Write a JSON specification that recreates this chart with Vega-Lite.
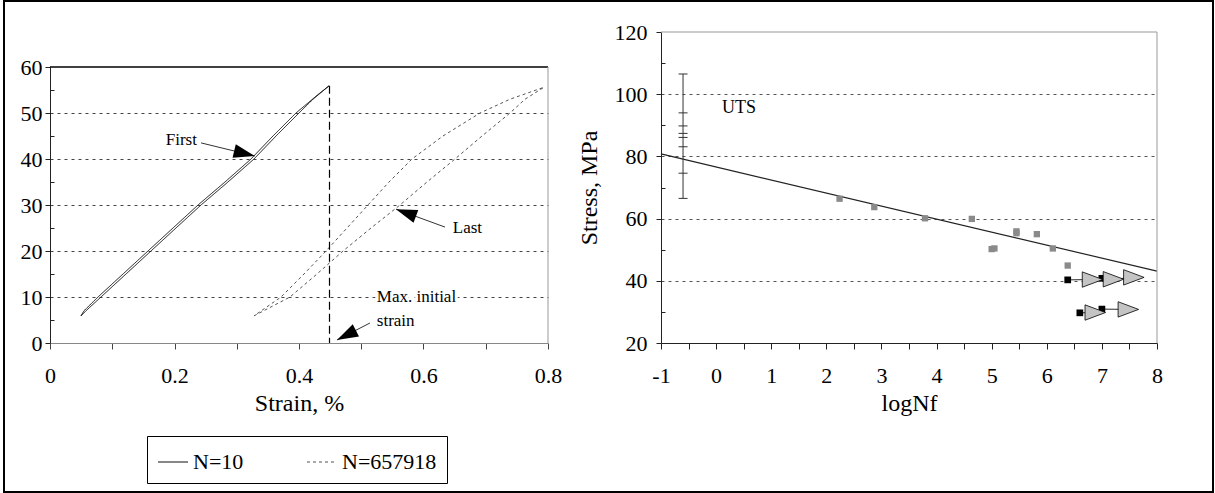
{
  "$schema": "https://vega.github.io/schema/vega-lite/v6.json",
  "width": 1215,
  "height": 493,
  "autosize": {"type": "fit", "contains": "padding"},
  "padding": {"left": 4, "top": 1, "right": 2, "bottom": 1},
  "background": "white",
  "config": {
    "font": "Liberation Serif, Times New Roman, Times, DejaVu Serif, serif",
    "view": {"stroke": "black", "strokeWidth": 2},
    "axis": {
      "labelFont": "Liberation Serif, Times New Roman, Times, DejaVu Serif, serif",
      "labelFontSize": 22,
      "labelColor": "black",
      "titleFont": "Liberation Serif, Times New Roman, Times, DejaVu Serif, serif",
      "titleFontSize": 24,
      "titleFontWeight": "normal",
      "titleColor": "black",
      "tickColor": "#222",
      "domainColor": "#222",
      "labelFlush": false,
      "labelOverlap": false,
      "labelBound": false
    },
    "legend": {"labelFont": "Liberation Serif, Times New Roman, Times, DejaVu Serif, serif"},
    "text": {"font": "Liberation Serif, Times New Roman, Times, DejaVu Serif, serif"}
  },
  "datasets": {
    "loops": [
      {"series": "N=10", "i": 0, "strain": 0.0498, "stress": 5.9},
      {"series": "N=10", "i": 1, "strain": 0.0578, "stress": 7},
      {"series": "N=10", "i": 2, "strain": 0.0819, "stress": 10},
      {"series": "N=10", "i": 3, "strain": 0.1221, "stress": 15},
      {"series": "N=10", "i": 4, "strain": 0.1622, "stress": 20},
      {"series": "N=10", "i": 5, "strain": 0.2024, "stress": 25},
      {"series": "N=10", "i": 6, "strain": 0.2426, "stress": 30},
      {"series": "N=10", "i": 7, "strain": 0.2859, "stress": 35},
      {"series": "N=10", "i": 8, "strain": 0.3277, "stress": 40},
      {"series": "N=10", "i": 9, "strain": 0.3631, "stress": 45},
      {"series": "N=10", "i": 10, "strain": 0.4, "stress": 50},
      {"series": "N=10", "i": 11, "strain": 0.4225, "stress": 53},
      {"series": "N=10", "i": 12, "strain": 0.4482, "stress": 55.9},
      {"series": "N=10", "i": 13, "strain": 0.4305, "stress": 54},
      {"series": "N=10", "i": 14, "strain": 0.3952, "stress": 50},
      {"series": "N=10", "i": 15, "strain": 0.3582, "stress": 45},
      {"series": "N=10", "i": 16, "strain": 0.3229, "stress": 40},
      {"series": "N=10", "i": 17, "strain": 0.2811, "stress": 35},
      {"series": "N=10", "i": 18, "strain": 0.2378, "stress": 30},
      {"series": "N=10", "i": 19, "strain": 0.1976, "stress": 25},
      {"series": "N=10", "i": 20, "strain": 0.1574, "stress": 20},
      {"series": "N=10", "i": 21, "strain": 0.1173, "stress": 15},
      {"series": "N=10", "i": 22, "strain": 0.0771, "stress": 10},
      {"series": "N=10", "i": 23, "strain": 0.0546, "stress": 7},
      {"series": "N=10", "i": 24, "strain": 0.0498, "stress": 5.9},
      {"series": "N=657918", "i": 0, "strain": 0.3277, "stress": 5.9},
      {"series": "N=657918", "i": 1, "strain": 0.3855, "stress": 10},
      {"series": "N=657918", "i": 2, "strain": 0.4289, "stress": 15},
      {"series": "N=657918", "i": 3, "strain": 0.4707, "stress": 20},
      {"series": "N=657918", "i": 4, "strain": 0.5157, "stress": 25},
      {"series": "N=657918", "i": 5, "strain": 0.5622, "stress": 30},
      {"series": "N=657918", "i": 6, "strain": 0.6056, "stress": 35},
      {"series": "N=657918", "i": 7, "strain": 0.6506, "stress": 40},
      {"series": "N=657918", "i": 8, "strain": 0.694, "stress": 45},
      {"series": "N=657918", "i": 9, "strain": 0.739, "stress": 50},
      {"series": "N=657918", "i": 10, "strain": 0.7631, "stress": 53},
      {"series": "N=657918", "i": 11, "strain": 0.7936, "stress": 55.6},
      {"series": "N=657918", "i": 12, "strain": 0.739, "stress": 53},
      {"series": "N=657918", "i": 13, "strain": 0.6908, "stress": 50},
      {"series": "N=657918", "i": 14, "strain": 0.6313, "stress": 45},
      {"series": "N=657918", "i": 15, "strain": 0.5815, "stress": 40},
      {"series": "N=657918", "i": 16, "strain": 0.5446, "stress": 35},
      {"series": "N=657918", "i": 17, "strain": 0.5108, "stress": 30},
      {"series": "N=657918", "i": 18, "strain": 0.4771, "stress": 25},
      {"series": "N=657918", "i": 19, "strain": 0.4434, "stress": 20},
      {"series": "N=657918", "i": 20, "strain": 0.408, "stress": 15},
      {"series": "N=657918", "i": 21, "strain": 0.3711, "stress": 10},
      {"series": "N=657918", "i": 22, "strain": 0.3277, "stress": 5.9}
    ],
    "peak": [{"strain": 0.449, "top": 55.9, "bottom": 0}],
    "arrows": [
      {"name": "First", "strain": 0.2426, "stress": 43.5, "strain2": 0.329, "stress2": 40.65},
      {"name": "Last", "strain": 0.6345, "stress": 25.2, "strain2": 0.5558, "stress2": 29.1},
      {"name": "Max", "strain": 0.514, "stress": 4.35, "strain2": 0.461, "stress2": 0.65}
    ],
    "labels": [
      {"label": "First", "strain": 0.186, "stress": 44.1},
      {"label": "Last", "strain": 0.647, "stress": 25.0},
      {"label": "Max. initial", "strain": 0.525, "stress": 10.0},
      {"label": "strain", "strain": 0.525, "stress": 4.8}
    ],
    "fit": [{"logNf": -1, "stress": 80.8}, {"logNf": 8, "stress": 43.1}],
    "uts": [{"logNf": -0.6, "low": 66.5, "high": 106.5}],
    "utsTicks": [
      {"logNf": -0.6, "stress": 106.5},
      {"logNf": -0.6, "stress": 94.0},
      {"logNf": -0.6, "stress": 89.8},
      {"logNf": -0.6, "stress": 87.4},
      {"logNf": -0.6, "stress": 86.1},
      {"logNf": -0.6, "stress": 83.1},
      {"logNf": -0.6, "stress": 74.6},
      {"logNf": -0.6, "stress": 66.5}
    ],
    "failures": [
      {"logNf": 2.24, "stress": 66.4},
      {"logNf": 2.87, "stress": 63.7},
      {"logNf": 3.79, "stress": 60.1},
      {"logNf": 4.64, "stress": 59.9},
      {"logNf": 5.0, "stress": 50.2},
      {"logNf": 5.05, "stress": 50.4},
      {"logNf": 5.45, "stress": 55.9},
      {"logNf": 5.45, "stress": 55.3},
      {"logNf": 5.82, "stress": 55.0},
      {"logNf": 6.11, "stress": 50.4},
      {"logNf": 6.38, "stress": 44.9}
    ],
    "runouts": [
      {"group": "a", "kind": "start", "logNf": 6.38, "stress": 40.3},
      {"group": "a", "kind": "runout", "logNf": 6.83, "stress": 40.4},
      {"group": "a", "kind": "start", "logNf": 7.0, "stress": 40.8},
      {"group": "a", "kind": "runout", "logNf": 7.21, "stress": 40.5},
      {"group": "a", "kind": "runout", "logNf": 7.58, "stress": 41.1},
      {"group": "b", "kind": "start", "logNf": 6.6, "stress": 29.7},
      {"group": "b", "kind": "runout", "logNf": 6.88, "stress": 29.8},
      {"group": "b", "kind": "start", "logNf": 7.0, "stress": 30.9},
      {"group": "b", "kind": "runout", "logNf": 7.48, "stress": 30.8}
    ],
    "utsLabel": [{"label": "UTS", "logNf": 0.107, "stress": 95.6}],
    "frame": [{}]
  },
  "layer": [
    {
      "layer": [
        {
          "data": {"name": "loops"},
          "mark": {"type": "line", "strokeWidth": 1},
          "encoding": {
            "x": {
              "field": "strain", "type": "quantitative",
              "scale": {"domain": [0, 0.8], "range": [46, 544], "nice": false, "zero": false},
              "axis": {
                "orient": "bottom", "offset": -149,
                "values": [0, 0.1, 0.2, 0.3, 0.4, 0.5, 0.6, 0.7, 0.8],
                "labelExpr": "round(datum.value*10) % 2 === 0 ? '' + datum.value : ''",
                "title": "Strain, %", "grid": false, "tickSize": 6,
                "labelPadding": 16, "titlePadding": 5, "domainColor": "#888", "tickColor": "#444"
              }
            },
            "y": {
              "field": "stress", "type": "quantitative",
              "scale": {"domain": [0, 60], "range": [342, 66], "nice": false, "zero": false},
              "axis": {
                "orient": "left", "offset": -46,
                "values": [0, 5, 10, 15, 20, 25, 30, 35, 40, 45, 50, 55, 60],
                "labelExpr": "datum.value % 10 === 0 ? '' + datum.value : ''",
                "title": null, "grid": true, "gridDash": [3, 4], "gridColor": "#444",
                "gridOpacity": {"condition": {"test": "datum.value % 10 !== 0 || datum.value === 0 || datum.value === 60", "value": 0}, "value": 1},
                "tickSize": {"condition": {"test": "datum.value % 10 !== 0", "value": -4}, "value": 5},
                "labelPadding": 3
              }
            },
            "order": {"field": "i", "type": "quantitative"},
            "color": {
              "field": "series", "type": "nominal",
              "scale": {"domain": ["N=10", "N=657918"], "range": ["#111111", "#555555"]},
              "legend": {
                "orient": "none", "legendX": 143, "legendY": 435, "direction": "horizontal",
                "title": null, "symbolType": "stroke", "symbolSize": 900, "symbolStrokeWidth": 1.2,
                "labelFont": "Liberation Serif, Times New Roman, Times, DejaVu Serif, serif",
                "labelFontSize": 22, "labelColor": "black",
                "strokeColor": "black", "fillColor": "white", "padding": 10,
                "columnPadding": 60, "labelOffset": 4
              }
            },
            "strokeDash": {
              "field": "series", "type": "nominal",
              "scale": {"domain": ["N=10", "N=657918"], "range": [[1, 0], [3, 3]]},
              "legend": {
                "orient": "none", "legendX": 143, "legendY": 435, "direction": "horizontal",
                "title": null, "symbolType": "stroke", "symbolSize": 900, "symbolStrokeWidth": 1.2,
                "labelFont": "Liberation Serif, Times New Roman, Times, DejaVu Serif, serif",
                "labelFontSize": 22, "labelColor": "black",
                "strokeColor": "black", "fillColor": "white", "padding": 10,
                "columnPadding": 60, "labelOffset": 4
              }
            }
          }
        },
        {
          "data": {"name": "peak"},
          "mark": {"type": "rule", "color": "black", "strokeDash": [8, 4], "strokeWidth": 1.2},
          "encoding": {
            "x": {"field": "strain", "type": "quantitative"},
            "y": {"field": "top", "type": "quantitative"},
            "y2": {"field": "bottom"}
          }
        },
        {
          "data": {"name": "arrows"},
          "mark": {"type": "rule", "color": "#333", "strokeWidth": 1},
          "encoding": {
            "x": {"field": "strain", "type": "quantitative"},
            "y": {"field": "stress", "type": "quantitative"},
            "x2": {"field": "strain2"},
            "y2": {"field": "stress2"}
          }
        },
        {
          "data": {"name": "arrows"},
          "transform": [{"filter": "datum.name === 'First'"}],
          "mark": {"type": "point", "shape": "M0,0L-2,-0.65L-2,0.65Z", "filled": true, "color": "black", "size": 450, "opacity": 1, "angle": 13.5},
          "encoding": {
            "x": {"field": "strain2", "type": "quantitative"},
            "y": {"field": "stress2", "type": "quantitative"}
          }
        },
        {
          "data": {"name": "arrows"},
          "transform": [{"filter": "datum.name === 'Last'"}],
          "mark": {"type": "point", "shape": "M0,0L-2,-0.65L-2,0.65Z", "filled": true, "color": "black", "size": 450, "opacity": 1, "angle": 200},
          "encoding": {
            "x": {"field": "strain2", "type": "quantitative"},
            "y": {"field": "stress2", "type": "quantitative"}
          }
        },
        {
          "data": {"name": "arrows"},
          "transform": [{"filter": "datum.name === 'Max'"}],
          "mark": {"type": "point", "shape": "M0,0L-2,-0.65L-2,0.65Z", "filled": true, "color": "black", "size": 450, "opacity": 1, "angle": 153},
          "encoding": {
            "x": {"field": "strain2", "type": "quantitative"},
            "y": {"field": "stress2", "type": "quantitative"}
          }
        },
        {
          "data": {"name": "labels"},
          "mark": {"type": "text", "align": "left", "baseline": "middle", "fontSize": 17, "color": "white", "stroke": "white", "strokeWidth": 6},
          "encoding": {
            "x": {"field": "strain", "type": "quantitative"},
            "y": {"field": "stress", "type": "quantitative"},
            "text": {"field": "label"}
          }
        },
        {
          "data": {"name": "labels"},
          "mark": {"type": "text", "align": "left", "baseline": "middle", "fontSize": 17, "color": "black"},
          "encoding": {
            "x": {"field": "strain", "type": "quantitative"},
            "y": {"field": "stress", "type": "quantitative"},
            "text": {"field": "label"}
          }
        },
        {
          "data": {"name": "frame"},
          "mark": {"type": "rule", "color": "black", "strokeWidth": 1.3},
          "encoding": {
            "x": {"datum": 0}, "x2": {"datum": 0.8}, "y": {"datum": 60}
          }
        },
        {
          "data": {"name": "frame"},
          "mark": {"type": "rule", "color": "#999", "strokeWidth": 1},
          "encoding": {
            "x": {"datum": 0.8}, "y": {"datum": 0}, "y2": {"datum": 60}
          }
        }
      ]
    },
    {
      "layer": [
        {
          "data": {"name": "fit"},
          "mark": {"type": "line", "color": "#222", "strokeWidth": 1.2},
          "encoding": {
            "x": {
              "field": "logNf", "type": "quantitative",
              "scale": {"domain": [-1, 8], "range": [657, 1153], "nice": false, "zero": false},
              "axis": {
                "orient": "bottom", "offset": -149,
                "values": [-1, -0.5, 0, 0.5, 1, 1.5, 2, 2.5, 3, 3.5, 4, 4.5, 5, 5.5, 6, 6.5, 7, 7.5, 8],
                "labelExpr": "datum.value % 1 === 0 ? '' + datum.value : ''",
                "title": "logNf", "grid": false, "tickSize": 6,
                "labelPadding": 16, "titlePadding": 5
              }
            },
            "y": {
              "field": "stress", "type": "quantitative",
              "scale": {"domain": [20, 120], "range": [342, 31], "nice": false, "zero": false},
              "axis": {
                "orient": "left", "offset": -657,
                "values": [20, 30, 40, 50, 60, 70, 80, 90, 100, 110, 120],
                "labelExpr": "datum.value % 20 === 0 ? '' + datum.value : ''",
                "title": "Stress, MPa", "grid": true, "gridDash": [3, 4], "gridColor": "#555",
                "gridOpacity": {"condition": {"test": "datum.value % 20 !== 0 || datum.value === 20 || datum.value === 120", "value": 0}, "value": 1},
                "tickSize": {"condition": {"test": "datum.value % 20 !== 0", "value": -4}, "value": 5},
                "labelPadding": 9, "titlePadding": 13
              }
            }
          }
        },
        {
          "data": {"name": "uts"},
          "mark": {"type": "rule", "color": "#333", "strokeWidth": 1},
          "encoding": {
            "x": {"field": "logNf", "type": "quantitative"},
            "y": {"field": "low", "type": "quantitative"},
            "y2": {"field": "high"}
          }
        },
        {
          "data": {"name": "utsTicks"},
          "mark": {"type": "tick", "orient": "horizontal", "size": 9, "thickness": 1, "color": "#333", "opacity": 1},
          "encoding": {
            "x": {"field": "logNf", "type": "quantitative"},
            "y": {"field": "stress", "type": "quantitative"}
          }
        },
        {
          "data": {"name": "failures"},
          "mark": {"type": "square", "size": 40, "color": "#8a8a8a", "opacity": 1},
          "encoding": {
            "x": {"field": "logNf", "type": "quantitative"},
            "y": {"field": "stress", "type": "quantitative"}
          }
        },
        {
          "data": {"name": "runouts"},
          "mark": {"type": "line", "color": "#111", "strokeWidth": 0.9},
          "encoding": {
            "x": {"field": "logNf", "type": "quantitative"},
            "y": {"field": "stress", "type": "quantitative"},
            "detail": {"field": "group"},
            "order": {"field": "logNf", "type": "quantitative"}
          }
        },
        {
          "data": {"name": "runouts"},
          "transform": [{"filter": "datum.kind === 'start'"}],
          "mark": {"type": "square", "size": 45, "color": "black", "opacity": 1},
          "encoding": {
            "x": {"field": "logNf", "type": "quantitative"},
            "y": {"field": "stress", "type": "quantitative"}
          }
        },
        {
          "data": {"name": "runouts"},
          "transform": [{"filter": "datum.kind === 'runout'"}],
          "mark": {"type": "point", "shape": "M-1,-0.75L1,0L-1,0.75Z", "size": 420, "filled": true, "fill": "#c4c4c4", "stroke": "black", "strokeWidth": 0.8, "opacity": 1},
          "encoding": {
            "x": {"field": "logNf", "type": "quantitative"},
            "y": {"field": "stress", "type": "quantitative"}
          }
        },
        {
          "data": {"name": "utsLabel"},
          "mark": {"type": "text", "align": "left", "baseline": "middle", "fontSize": 18, "color": "black"},
          "encoding": {
            "x": {"field": "logNf", "type": "quantitative"},
            "y": {"field": "stress", "type": "quantitative"},
            "text": {"field": "label"}
          }
        },
        {
          "data": {"name": "frame"},
          "mark": {"type": "rule", "color": "#999", "strokeWidth": 1},
          "encoding": {
            "x": {"datum": -1}, "x2": {"datum": 8}, "y": {"datum": 120}
          }
        },
        {
          "data": {"name": "frame"},
          "mark": {"type": "rule", "color": "#999", "strokeWidth": 1},
          "encoding": {
            "x": {"datum": 8}, "y": {"datum": 20}, "y2": {"datum": 120}
          }
        }
      ]
    }
  ],
  "resolve": {"scale": {"x": "independent", "y": "independent"}}
}
